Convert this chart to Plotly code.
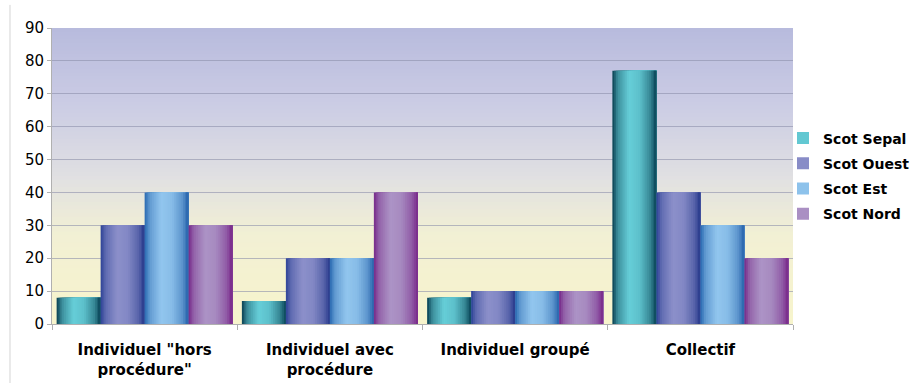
import plotly.graph_objects as go

# Categories and series values
categories = ['Individuel "hors<br>procédure"', "Individuel avec<br>procédure",
              "Individuel groupé", "Collectif"]
series_names = ["Scot Sepal", "Scot Ouest", "Scot Est", "Scot Nord"]
scot_sepal = [8, 7, 8, 77]
scot_ouest = [30, 20, 10, 40]
scot_est = [40, 20, 10, 30]
scot_nord = [30, 40, 10, 20]
y_ticks = [0, 10, 20, 30, 40, 50, 60, 70, 80, 90]

series_values = [scot_sepal, scot_ouest, scot_est, scot_nord]

# Cylinder-like shading: (left edge, highlight, right edge) colours per series
shades = [
    ((8, 62, 80), (102, 206, 216), (10, 70, 88)),
    ((44, 66, 150), (140, 144, 202), (40, 58, 140)),
    ((40, 104, 176), (146, 198, 238), (40, 100, 172)),
    ((118, 40, 136), (172, 148, 198), (120, 40, 138)),
]
# Horizontal profile across a bar: (position, weight toward highlight)
profile = [(0.0, 0.0), (0.12, 0.55), (0.38, 1.0), (0.62, 0.9), (0.85, 0.5), (1.0, 0.0)]


def weight_at(t):
    for (t0, w0), (t1, w1) in zip(profile[:-1], profile[1:]):
        if t0 <= t <= t1:
            return w0 + (w1 - w0) * (t - t0) / (t1 - t0)
    return 0.0


def mix(c0, c1, w):
    return tuple(round(a + (b - a) * w) for a, b in zip(c0, c1))


def shade_color(shade, t):
    left, hi, right = shade
    edge = mix(left, right, t)
    r, g, b = mix(edge, hi, weight_at(t))
    return f"rgb({r},{g},{b})"


fig = go.Figure()

n_slices = 24
group_width = 0.95
bar_w = group_width / len(series_names)

for i, (name, vals, shade) in enumerate(zip(series_names, series_values, shades)):
    left = -group_width / 2 + i * bar_w
    for k in range(n_slices):
        t = (k + 0.5) / n_slices
        fig.add_trace(go.Bar(
            x=categories, y=vals,
            offset=left + k * bar_w / n_slices,
            width=(n_slices - k) * bar_w / n_slices,
            marker=dict(color=shade_color(shade, t), line=dict(width=0)),
            name=name, legendgroup=name,
            showlegend=(k == n_slices // 3),
            hoverinfo="skip" if k != n_slices // 2 else None,
        ))

# Plot-area background: lavender at the top fading to pale yellow at the bottom
bg_stops = [(0.0, (247, 244, 204)), (0.3, (242, 240, 212)), (0.5, (224, 224, 226)),
            (0.75, (202, 203, 228)), (1.0, (184, 187, 221))]
n_bands = 80
shapes = []
for j in range(n_bands):
    y0 = j / n_bands
    yc = (j + 0.5) / n_bands
    for (p0, c0), (p1, c1) in zip(bg_stops[:-1], bg_stops[1:]):
        if p0 <= yc <= p1:
            r, g, b = mix(c0, c1, (yc - p0) / (p1 - p0))
            break
    # each band runs to the top; later bands cover the upper part, so no seams
    shapes.append(dict(type="rect", xref="paper", yref="paper", x0=0, x1=1,
                       y0=y0, y1=1, layer="below",
                       line=dict(width=0), fillcolor=f"rgb({r},{g},{b})"))
# thin frame line at the left of the chart
shapes.append(dict(type="line", xref="paper", yref="paper", x0=-0.0567, x1=-0.0567,
                   y0=-0.2, y1=1.078, line=dict(color="#d4d4d4", width=1)))

fig.update_layout(
    width=910, height=383,
    margin=dict(l=52, r=117, t=28, b=59, autoexpand=False),
    paper_bgcolor="white",
    plot_bgcolor="rgba(0,0,0,0)",
    barmode="overlay",
    shapes=shapes,
    font=dict(family="DejaVu Sans, Verdana, sans-serif", color="black"),
    showlegend=True,
    legend=dict(x=0.9865, xanchor="left", y=0.5, yanchor="middle",
                font=dict(size=14, family="DejaVu Sans", weight="bold"),
                tracegroupgap=4, bgcolor="rgba(0,0,0,0)"),
    xaxis=dict(
        type="category", tickson="boundaries", ticks="outside", ticklen=5,
        tickcolor="#b0b0b0", showline=True, linecolor="#b0b0b0", linewidth=1,
        showgrid=False, range=[-0.5, 3.5], ticklabelstandoff=12,
        tickfont=dict(size=15, family="DejaVu Sans", weight="bold"),
    ),
    yaxis=dict(
        range=[0, 90], tickvals=y_ticks, ticks="outside", ticklen=4,
        tickcolor="#b0b0b0", showline=True, linecolor="#b0b0b0", linewidth=1,
        showgrid=True, gridcolor="rgba(140,144,170,0.6)", gridwidth=1,
        zeroline=False, tickfont=dict(size=15), layer="below traces",
    ),
)

fig.write_html("out.html")
